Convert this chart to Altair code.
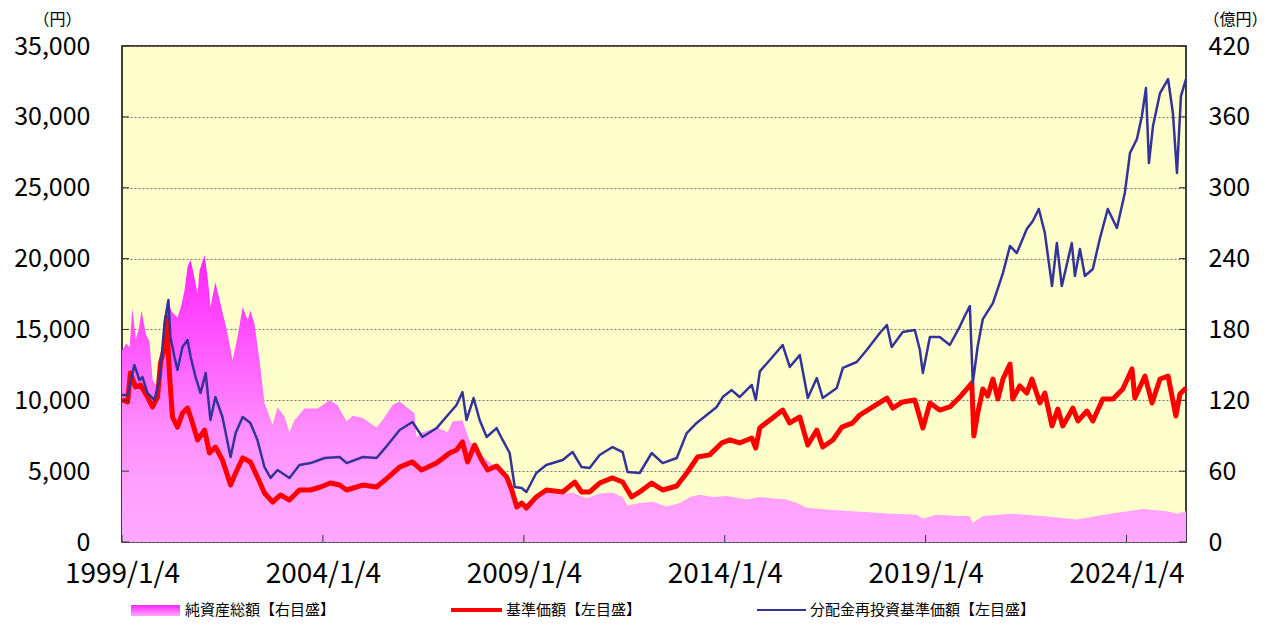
import altair as alt
import pandas as pd

# ---------------- data ----------------
# 純資産総額 (億円, right axis)
na_dates = ["1999-01-04", "1999-02-10", "1999-03-15", "1999-04-08", "1999-05-10", "1999-06-05",
            "1999-07-01", "1999-08-10", "1999-09-10", "1999-10-10", "1999-11-20", "1999-12-20",
            "2000-01-26", "2000-02-20", "2000-04-01", "2000-05-22", "2000-06-25", "2000-07-25",
            "2000-08-22", "2000-09-19", "2000-10-24", "2000-11-21", "2000-12-09", "2001-01-24",
            "2001-02-21", "2001-03-18", "2001-05-02", "2001-06-17", "2001-08-20", "2001-10-05",
            "2001-11-20", "2002-01-05", "2002-02-20", "2002-03-16", "2002-04-22", "2002-06-07",
            "2002-07-22", "2002-09-07", "2002-10-04", "2002-11-18", "2003-01-21", "2003-03-06",
            "2003-04-21", "2003-07-20", "2003-11-17", "2004-03-05", "2004-05-16", "2004-08-07",
            "2004-10-01", "2005-01-01", "2005-05-06", "2005-06-29", "2005-09-29", "2005-12-02",
            "2006-02-05", "2006-04-16", "2006-05-04", "2006-06-28", "2006-11-03", "2007-02-12",
            "2007-03-27", "2007-06-26", "2007-08-29", "2007-11-02", "2008-01-01", "2008-05-01",
            "2008-08-01", "2008-09-25", "2008-12-24", "2009-01-27", "2009-04-01", "2009-07-27",
            "2009-11-26", "2010-03-23", "2010-07-28", "2010-11-24", "2011-03-21", "2011-06-21",
            "2011-08-05", "2011-11-23", "2012-03-20", "2012-07-25", "2012-11-22", "2013-02-21",
            "2013-05-21", "2013-09-17", "2014-01-23", "2014-07-22", "2014-11-19", "2015-03-15",
            "2015-07-21", "2015-10-20", "2016-01-20", "2016-09-13", "2017-09-11", "2018-03-11",
            "2018-10-16", "2018-12-10", "2019-04-15", "2019-11-11", "2020-02-10", "2020-03-08",
            "2020-06-07", "2021-02-09", "2021-12-05", "2022-10-10", "2023-08-06", "2024-06-02",
            "2025-01-07", "2025-04-07", "2025-06-28"]
na_values = [162, 168, 165, 198, 172, 180,
             196, 176, 170, 137, 131, 150,
             185, 205, 195, 190, 200, 213,
             233, 239, 224, 210, 230, 243,
             224, 199, 220, 202, 177, 154,
             174, 199, 188, 196, 185, 154,
             118, 106, 99, 114, 106, 93,
             103, 113, 113, 120, 116, 102,
             107, 105, 97, 103, 116, 119,
             114, 109, 89, 93, 97, 93,
             102, 103, 86, 78, 72, 63,
             52, 35, 31, 33, 38, 44,
             40, 42, 37, 41, 42, 38,
             31, 33, 34, 30, 33, 38,
             40, 38, 39, 36, 38, 37,
             36, 33, 29, 27, 25, 24,
             23, 20, 23, 22, 22, 16,
             22, 24, 22, 19, 24, 28,
             26, 24, 26]

# 基準価額 (円, left axis)
nav_dates = ["1999-01-04", "1999-02-24", "1999-03-21", "1999-05-06", "1999-06-21", "1999-08-24",
             "1999-10-08", "1999-11-23", "1999-12-20", "2000-01-26", "2000-02-13", "2000-03-10",
             "2000-04-07", "2000-05-22", "2000-07-07", "2000-08-22", "2000-10-06", "2000-11-21",
             "2001-01-24", "2001-03-09", "2001-05-02", "2001-07-05", "2001-09-17", "2001-11-02",
             "2002-01-05", "2002-03-16", "2002-05-19", "2002-07-22", "2002-10-04", "2002-12-15",
             "2003-03-06", "2003-06-05", "2003-09-14", "2003-12-14", "2004-03-13", "2004-06-04",
             "2004-08-07", "2005-01-01", "2005-05-06", "2005-08-14", "2005-12-02", "2006-03-28",
             "2006-06-19", "2006-11-03", "2007-03-01", "2007-05-03", "2007-06-26", "2007-08-11",
             "2007-10-14", "2007-12-17", "2008-02-10", "2008-05-01", "2008-08-01", "2008-09-16",
             "2008-11-01", "2008-12-15", "2009-01-27", "2009-04-27", "2009-07-27", "2009-12-23",
             "2010-04-11", "2010-06-13", "2010-08-25", "2010-11-24", "2011-03-21", "2011-06-21",
             "2011-09-11", "2011-11-23", "2012-03-11", "2012-06-19", "2012-10-25", "2013-01-24",
             "2013-05-03", "2013-08-20", "2013-12-08", "2014-02-20", "2014-05-19", "2014-09-07",
             "2014-10-13", "2014-11-19", "2015-03-15", "2015-06-15", "2015-08-18", "2015-11-17",
             "2016-01-29", "2016-04-20", "2016-06-13", "2016-09-13", "2016-12-04", "2017-03-12",
             "2017-05-15", "2017-09-11", "2018-01-17", "2018-03-11", "2018-06-10", "2018-09-28",
             "2018-12-10", "2019-02-12", "2019-05-12", "2019-08-12", "2019-11-11", "2020-01-14",
             "2020-02-28", "2020-03-17", "2020-04-22", "2020-06-07", "2020-07-22", "2020-09-07",
             "2020-10-22", "2020-12-07", "2021-02-09", "2021-03-06", "2021-05-09", "2021-07-12",
             "2021-08-27", "2021-11-08", "2021-12-23", "2022-02-26", "2022-04-20", "2022-06-04",
             "2022-09-04", "2022-10-19", "2023-01-10", "2023-03-04", "2023-06-03", "2023-09-03",
             "2023-12-02", "2024-02-23", "2024-03-20", "2024-06-20", "2024-08-23", "2024-11-04",
             "2025-01-16", "2025-03-28", "2025-05-04", "2025-06-28"]
nav_values = [10020, 9880, 11920, 10940, 11080, 10230,
              9530, 10230, 12630, 13760, 15880, 11920,
              8820, 8110, 9100, 9450, 8400, 7200,
              7900, 6280, 6700, 5790, 4020, 4870,
              5930, 5650, 4590, 3460, 2820, 3320,
              2960, 3670, 3670, 3880, 4160, 4020,
              3670, 4020, 3880, 4520, 5290, 5650,
              5080, 5570, 6280, 6490, 7060, 5650,
              6840, 5790, 5080, 5360, 4590, 3670,
              2470, 2750, 2400, 3180, 3670, 3530,
              4230, 3530, 3530, 4160, 4520, 4230,
              3180, 3530, 4160, 3670, 3950, 4870,
              6000, 6150, 6990, 7200, 6990, 7340,
              6630, 8070, 8750, 9310, 8400, 8820,
              6840, 7900, 6700, 7200, 8110, 8400,
              8960, 9530, 10160, 9450, 9880, 10020,
              8040, 9810, 9310, 9530, 10230, 10800,
              11220, 7480, 9100, 10800, 10300, 11500,
              10090, 11500, 12560, 10090, 11010, 10510,
              11500, 9810, 10510, 8190, 9380, 8190,
              9450, 8540, 9240, 8540, 10090, 10090,
              10800, 12210, 10160, 11710, 9810, 11500,
              11710, 8890, 10440, 10870]

# 分配金再投資基準価額 (円, left axis)
re_dates = ["1999-01-04", "1999-02-24", "1999-04-26", "1999-06-12", "1999-07-09", "1999-08-24",
            "1999-10-26", "1999-12-11", "2000-01-26", "2000-03-01", "2000-03-19", "2000-04-25",
            "2000-05-22", "2000-07-07", "2000-08-22", "2000-09-19", "2000-11-03", "2000-12-18",
            "2001-02-03", "2001-03-18", "2001-05-02", "2001-07-05", "2001-09-17", "2001-11-02",
            "2002-01-05", "2002-03-16", "2002-05-19", "2002-07-22", "2002-09-16", "2002-11-18",
            "2003-03-06", "2003-06-05", "2003-09-14", "2004-01-20", "2004-06-04", "2004-08-07",
            "2005-01-01", "2005-05-06", "2005-08-14", "2005-12-02", "2006-03-28", "2006-06-28",
            "2006-11-03", "2007-03-01", "2007-05-03", "2007-06-26", "2007-08-02", "2007-10-05",
            "2007-11-29", "2008-02-01", "2008-05-01", "2008-06-25", "2008-08-28", "2008-10-13",
            "2008-12-15", "2009-01-27", "2009-04-27", "2009-07-27", "2009-12-23", "2010-03-23",
            "2010-06-13", "2010-08-25", "2010-11-24", "2011-03-21", "2011-06-21", "2011-08-05",
            "2011-11-23", "2012-03-11", "2012-06-19", "2012-10-25", "2013-01-24", "2013-04-24",
            "2013-07-24", "2013-10-23", "2013-12-17", "2014-03-08", "2014-05-19", "2014-09-07",
            "2014-10-13", "2014-11-19", "2015-02-18", "2015-06-15", "2015-08-18", "2015-11-17",
            "2016-01-29", "2016-04-20", "2016-06-13", "2016-10-19", "2016-12-13", "2017-04-18",
            "2017-07-18", "2017-11-14", "2018-01-17", "2018-03-02", "2018-06-10", "2018-09-28",
            "2018-11-13", "2018-12-10", "2019-02-12", "2019-05-12", "2019-08-12", "2019-11-11",
            "2019-12-26", "2020-02-10", "2020-03-08", "2020-04-22", "2020-06-07", "2020-09-07",
            "2020-12-07", "2021-02-09", "2021-04-12", "2021-07-12", "2021-09-05", "2021-10-29",
            "2021-12-23", "2022-02-26", "2022-04-11", "2022-05-26", "2022-08-25", "2022-09-22",
            "2022-11-07", "2022-12-22", "2023-03-04", "2023-05-06", "2023-07-18", "2023-10-09",
            "2023-12-20", "2024-02-05", "2024-04-08", "2024-05-23", "2024-06-29", "2024-07-26",
            "2024-09-01", "2024-11-04", "2025-01-16", "2025-03-01", "2025-04-07", "2025-05-13",
            "2025-06-28"]
re_values = [10370, 10370, 12490, 11430, 11640, 10510,
             10020, 11430, 15450, 17080, 14470, 13050,
             12140, 13760, 14250, 13050, 11640, 10510,
             11920, 8610, 10230, 8820, 6000, 7690,
             8820, 8400, 7200, 5290, 4520, 5080,
             4520, 5430, 5570, 5930, 6000, 5570,
             6000, 5930, 6840, 7900, 8470, 7410,
             8040, 9100, 9670, 10580, 8610, 10160,
             8610, 7410, 8040, 7200, 6280, 3880,
             3810, 3530, 4870, 5430, 5790, 6350,
             5290, 5220, 6140, 6700, 6350, 4940,
             4870, 6280, 5570, 5930, 7690, 8400,
             8960, 9530, 10230, 10720, 10230, 11080,
             10020, 12040, 12840, 13900, 12350, 13190,
             10160, 11570, 10160, 10870, 12280, 12700,
             13550, 14750, 15310, 13760, 14820, 14960,
             13550, 11920, 14470, 14470, 13900, 15200,
             15950, 16650, 11220, 13830, 15730, 16860,
             18980, 20890, 20390, 22080, 22650, 23500,
             21800, 18060, 21100, 18060, 21100, 18770,
             20670, 18770, 19260, 21380, 23500, 22160,
             24630, 27450, 28440, 30060, 32030, 26740,
             29350, 31680, 32670, 30270, 26040, 31470,
             32670]

x_tick_dates = ["1999-01-04", "2004-01-04", "2009-01-04", "2014-01-04", "2019-01-04", "2024-01-04"]
x_start, x_end = "1999-01-04", "2025-06-28"
left_ticks = [0, 5000, 10000, 15000, 20000, 25000, 30000, 35000]
right_ticks = [0, 60, 120, 180, 240, 300, 360, 420]
left_title = "（円）"
right_title = "（億円）"
legend_labels = ["純資産総額【右目盛】", "基準価額【左目盛】", "分配金再投資基準価額【左目盛】"]

# ---------------- styling ----------------
W, H = 1064, 496
FONT = "Noto Sans CJK JP"
RED = "#FF0000"
NAVY = "#333399"


def frame(dates, values):
    return pd.DataFrame({"date": pd.to_datetime(dates), "value": values})


def dt(s):
    t = pd.Timestamp(s)
    return alt.DateTime(year=t.year, month=t.month, date=t.day)


na_df = frame(na_dates, na_values)
nav_df = frame(nav_dates, nav_values)
re_df = frame(re_dates, re_values)
xt_df = pd.DataFrame({"date": pd.to_datetime(x_tick_dates)})
yt_df = pd.DataFrame({"v": left_ticks})

xscale = alt.Scale(domain=[dt(x_start), dt(x_end)])
xaxis = alt.Axis(values=[dt(d) for d in x_tick_dates], format="%Y/%-m/%-d", grid=False,
                 ticks=False, domain=False, labelFont=FONT, labelFontSize=28,
                 labelColor="black", labelPadding=18, labelOverlap=False, labelFlush=False,
                 title=None)
xenc = alt.X("date:T", scale=xscale, axis=xaxis)

left_scale = alt.Scale(domain=[0, 35000], nice=False, zero=True)
right_scale = alt.Scale(domain=[0, 420], nice=False, zero=True)

area_grad = alt.Gradient(
    gradient="linear",
    stops=[alt.GradientStop(color="#FF22FF", offset=0),
           alt.GradientStop(color="#FF66FF", offset=0.4),
           alt.GradientStop(color="#FF8CFF", offset=0.6),
           alt.GradientStop(color="#FFA0FF", offset=0.8),
           alt.GradientStop(color="#FFA8FF", offset=1)],
    x1=0, x2=0, y1=0, y2=1)

area = alt.Chart(na_df).mark_area(color=area_grad, interpolate="linear").encode(
    x=xenc,
    y=alt.Y("value:Q", scale=right_scale,
            axis=alt.Axis(orient="right", values=right_ticks, format="d", grid=False,
                          ticks=False, domain=False, labelFont=FONT, labelFontSize=25,
                          labelColor="black", labelPadding=22,
                          title=right_title, titleAngle=0, titleX=49, titleY=-27,
                          titleAlign="center", titleBaseline="middle", titleFont=FONT,
                          titleFontSize=16, titleFontWeight="normal", titleColor="black")),
)

red = alt.Chart(nav_df).mark_line(color=RED, strokeWidth=5, strokeJoin="round").encode(
    x=xenc,
    y=alt.Y("value:Q", scale=left_scale,
            axis=alt.Axis(orient="left", values=left_ticks, format=",d", grid=True,
                          gridDash=[2, 2], gridColor="#777777", gridWidth=1,
                          ticks=False, domain=False, labelFont=FONT, labelFontSize=25,
                          labelColor="black", labelPadding=32,
                          title=left_title, titleAngle=0, titleX=-65, titleY=-27,
                          titleAlign="center", titleBaseline="middle", titleFont=FONT,
                          titleFontSize=16, titleFontWeight="normal", titleColor="black")),
)

blue = alt.Chart(re_df).mark_line(color=NAVY, strokeWidth=2.5, strokeJoin="round").encode(
    x=xenc,
    y=alt.Y("value:Q", scale=left_scale, axis=None),
)

# inward tick marks
ytick_l = alt.Chart(yt_df).mark_rule(color="#333333", strokeWidth=1).encode(
    y=alt.Y("v:Q", scale=left_scale, axis=None), x=alt.value(0), x2=alt.value(7))
ytick_r = alt.Chart(yt_df).mark_rule(color="#333333", strokeWidth=1).encode(
    y=alt.Y("v:Q", scale=left_scale, axis=None), x=alt.value(W - 7), x2=alt.value(W))
xtick = alt.Chart(xt_df).mark_rule(color="#333333", strokeWidth=1).encode(
    x=xenc, y=alt.value(H - 7), y2=alt.value(H))

# legend
LY = 564
leg_df = [pd.DataFrame({"label": [lab]}) for lab in legend_labels]
sw_grad = alt.Gradient(
    gradient="linear",
    stops=[alt.GradientStop(color="#FF22FF", offset=0),
           alt.GradientStop(color="#FFA8FF", offset=1)],
    x1=0, x2=0, y1=0, y2=1)
leg_sw = alt.Chart(leg_df[0]).mark_rect(color=sw_grad).encode(
    x=alt.value(9), x2=alt.value(58), y=alt.value(LY - 5), y2=alt.value(LY + 6))
leg_red = alt.Chart(leg_df[1]).mark_rule(color=RED, strokeWidth=4).encode(
    x=alt.value(329), x2=alt.value(380), y=alt.value(LY))
leg_blue = alt.Chart(leg_df[2]).mark_rule(color=NAVY, strokeWidth=2).encode(
    x=alt.value(635), x2=alt.value(684), y=alt.value(LY))


def leg_text(df, x):
    return alt.Chart(df).mark_text(align="left", baseline="middle", font=FONT, fontSize=15,
                                   color="black").encode(
        x=alt.value(x), y=alt.value(LY), text="label:N")


leg_t1 = leg_text(leg_df[0], 63)
leg_t2 = leg_text(leg_df[1], 384)
leg_t3 = leg_text(leg_df[2], 688)

chart = alt.layer(
    area, red, blue, ytick_l, ytick_r, xtick,
    leg_sw, leg_red, leg_blue, leg_t1, leg_t2, leg_t3,
).resolve_scale(y="independent").properties(
    width=W, height=H,
    autosize=alt.AutoSizeParams(type="none"),
    padding={"left": 114, "top": 38, "right": 76, "bottom": 80},
    background="white",
).configure_view(
    fill="#FFFFCC", stroke="black", strokeWidth=1.5,
)

chart.save("out.html", embed_options={"renderer": "svg", "actions": False})
